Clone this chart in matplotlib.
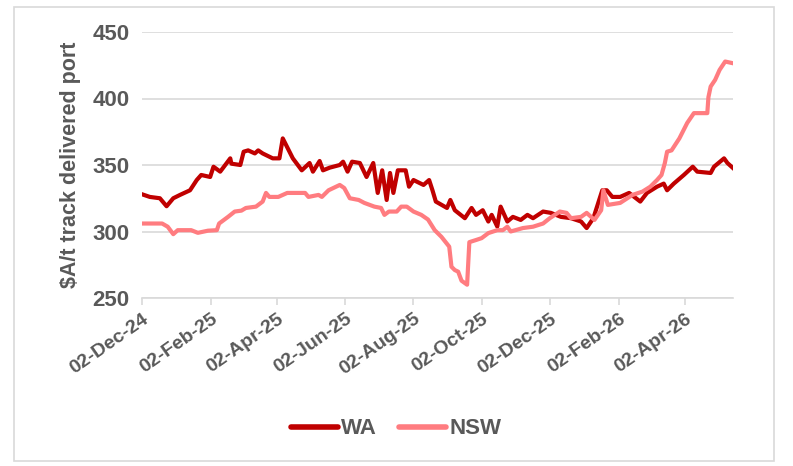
import matplotlib
matplotlib.use("Agg")
import matplotlib.pyplot as plt
import matplotlib.dates as mdates
from matplotlib.patches import Rectangle
import pandas as pd

plt.rcParams['font.family'] = ['Liberation Sans', 'DejaVu Sans']

wa_dates = ["2024-12-02", "2024-12-09", "2024-12-18", "2024-12-24", "2024-12-30", "2025-01-05",
            "2025-01-14", "2025-01-20", "2025-01-24", "2025-02-01", "2025-02-04", "2025-02-10",
            "2025-02-19", "2025-02-20", "2025-02-28", "2025-03-03", "2025-03-07", "2025-03-13",
            "2025-03-16", "2025-03-20", "2025-03-29", "2025-04-04", "2025-04-07", "2025-04-10",
            "2025-04-16", "2025-04-24", "2025-05-01", "2025-05-04", "2025-05-10", "2025-05-13",
            "2025-05-19", "2025-05-28", "2025-05-31", "2025-06-04", "2025-06-08", "2025-06-15",
            "2025-06-21", "2025-06-27", "2025-07-01", "2025-07-05", "2025-07-09", "2025-07-12",
            "2025-07-15", "2025-07-19", "2025-07-26", "2025-07-29", "2025-08-02", "2025-08-11",
            "2025-08-16", "2025-08-19", "2025-08-22", "2025-09-01", "2025-09-04", "2025-09-08",
            "2025-09-17", "2025-09-23", "2025-09-27", "2025-10-03", "2025-10-08", "2025-10-11",
            "2025-10-16", "2025-10-19", "2025-10-25", "2025-10-30", "2025-11-06", "2025-11-12",
            "2025-11-17", "2025-11-26", "2025-12-03", "2025-12-12", "2025-12-21", "2025-12-30",
            "2026-01-04", "2026-01-10", "2026-01-18", "2026-01-22", "2026-01-27", "2026-02-03",
            "2026-02-11", "2026-02-21", "2026-02-27", "2026-03-08", "2026-03-14", "2026-03-17",
            "2026-03-23", "2026-04-01", "2026-04-09", "2026-04-13", "2026-04-25", "2026-04-28",
            "2026-05-07", "2026-05-10", "2026-05-15"]
wa_values = [328, 326, 325, 319, 325, 327.5,
             331, 338.7, 342.5, 341, 348.7, 345,
             355, 351, 350, 360, 361, 358.7,
             361, 358.7, 355, 355, 370, 365,
             355, 346, 351.5, 345, 353, 346,
             348, 350, 352.5, 345, 352.5, 351.5,
             341, 351.5, 329, 346, 323.7, 344,
             329, 346, 346, 333.7, 338.7, 335,
             338.7, 331, 322.5, 317.7, 323.7, 316,
             310, 317.7, 312.5, 316, 307.5, 312.5,
             303.7, 318.7, 307.5, 311, 308.7, 312.5,
             310, 315, 314, 311, 310, 307.5,
             302.6, 310, 331, 331, 326, 326,
             329, 322.5, 329, 333.7, 336, 331,
             336, 342.5, 348.7, 345, 344, 348.7,
             355, 351.5, 347.7]

nsw_dates = ["2024-12-02", "2024-12-20", "2024-12-25", "2024-12-30", "2025-01-03", "2025-01-15",
             "2025-01-21", "2025-01-30", "2025-02-07", "2025-02-09", "2025-02-17", "2025-02-23",
             "2025-03-01", "2025-03-05", "2025-03-14", "2025-03-20", "2025-03-23", "2025-03-26",
             "2025-04-03", "2025-04-11", "2025-04-27", "2025-04-30", "2025-05-09", "2025-05-12",
             "2025-05-18", "2025-05-28", "2025-06-01", "2025-06-06", "2025-06-14", "2025-06-19",
             "2025-06-28", "2025-07-04", "2025-07-07", "2025-07-11", "2025-07-18", "2025-07-22",
             "2025-07-27", "2025-08-02", "2025-08-09", "2025-08-15", "2025-08-21", "2025-08-27",
             "2025-09-03", "2025-09-05", "2025-09-08", "2025-09-11", "2025-09-14", "2025-09-19",
             "2025-09-21", "2025-09-27", "2025-10-02", "2025-10-08", "2025-10-16", "2025-10-21",
             "2025-10-25", "2025-10-28", "2025-11-08", "2025-11-17", "2025-11-26", "2025-12-02",
             "2025-12-11", "2025-12-17", "2025-12-21", "2025-12-30", "2026-01-04", "2026-01-11",
             "2026-01-17", "2026-01-19", "2026-01-23", "2026-02-03", "2026-02-14", "2026-02-23",
             "2026-03-02", "2026-03-08", "2026-03-12", "2026-03-15", "2026-03-17", "2026-03-21",
             "2026-03-28", "2026-04-04", "2026-04-10", "2026-04-22", "2026-04-23", "2026-04-25",
             "2026-04-29", "2026-05-03", "2026-05-08", "2026-05-15"]
nsw_values = [306, 306, 303.6, 298, 301, 301,
              299, 300.6, 301, 306, 311, 315,
              315.7, 317.7, 318.7, 322.5, 329, 326,
              326, 329, 329, 326, 327.5, 326,
              331, 335, 332.7, 325, 323.7, 321.5,
              318.7, 317.7, 312.5, 315, 315, 318.7,
              318.7, 315, 312.5, 309, 301, 296,
              288.6, 273.5, 271, 269.8, 263, 260,
              292, 293.6, 295, 298.8, 301, 301,
              303.6, 300, 302.6, 303.6, 306, 310,
              315, 314, 310, 311, 314, 308.7,
              316, 331, 320, 321.5, 327.5, 330,
              333.7, 338.7, 342.5, 351.5, 360, 361,
              370, 381.6, 389, 389, 401, 409,
              414, 421.5, 427.8, 426.5]

y_ticks = [250, 300, 350, 400, 450]
x_tick_dates = ["2024-12-02", "2025-02-02", "2025-04-02", "2025-06-02", "2025-08-02",
                "2025-10-02", "2025-12-02", "2026-02-02", "2026-04-02"]
y_label = "$A/t track delivered port"
series_names = ["WA", "NSW"]
colors = ["#C00000", "#FF7C80"]

wa_x = pd.to_datetime(wa_dates)
nsw_x = pd.to_datetime(nsw_dates)

fig = plt.figure(figsize=(7.93, 4.66), dpi=100)
ax = fig.add_axes([142/793, 1-298/466, (733-142)/793, (298-32)/466])

ax.plot(wa_x, wa_values, color=colors[0], lw=3.0, label=series_names[0], solid_joinstyle='round')
ax.plot(nsw_x, nsw_values, color=colors[1], lw=3.0, label=series_names[1], solid_joinstyle='round')

ax.set_ylim(250, 450)
ax.set_yticks(y_ticks)
ax.set_xlim(pd.Timestamp("2024-12-02"), pd.Timestamp("2026-05-15"))
ax.set_xticks(pd.to_datetime(x_tick_dates))
ax.xaxis.set_major_formatter(mdates.DateFormatter("%d-%b-%y"))

grey = "#595959"
for s in ["top", "right", "left"]:
    ax.spines[s].set_visible(False)
ax.spines["bottom"].set_color("#D9D9D9")
ax.spines["bottom"].set_linewidth(1.2)
ax.yaxis.grid(True, color="#D9D9D9", lw=1.2)
ax.set_axisbelow(True)
ax.tick_params(axis='y', length=0, pad=9, labelsize=16, labelcolor=grey)
ax.tick_params(axis='x', length=5, width=1.2, color="#D9D9D9", pad=4, labelsize=14, labelcolor=grey)
for lab in ax.get_yticklabels():
    lab.set_fontweight('bold')
for lab in ax.get_xticklabels():
    lab.set_fontweight('bold')
    lab.set_rotation(35)
    lab.set_ha('right')
    lab.set_va('top')
    lab.set_rotation_mode('anchor')

ax.set_ylabel(y_label, fontsize=15.5, fontweight='bold', color=grey, labelpad=8)

leg = fig.legend(loc='center', bbox_to_anchor=(396/793, 1-429/466), ncol=2, frameon=False,
                 fontsize=16, handlelength=2.1, handletextpad=0.15, columnspacing=1.0)
for t in leg.get_texts():
    t.set_fontweight('bold')
    t.set_color(grey)
for h in leg.get_lines():
    h.set_linewidth(4)
    h.set_solid_capstyle('round')

fig.patches.append(Rectangle((14/793, 1-461/466), (774-14)/793, (461-7)/466,
                             transform=fig.transFigure, fill=False, edgecolor="#D9D9D9", lw=1.2))

fig.savefig("out.png", dpi=100)
